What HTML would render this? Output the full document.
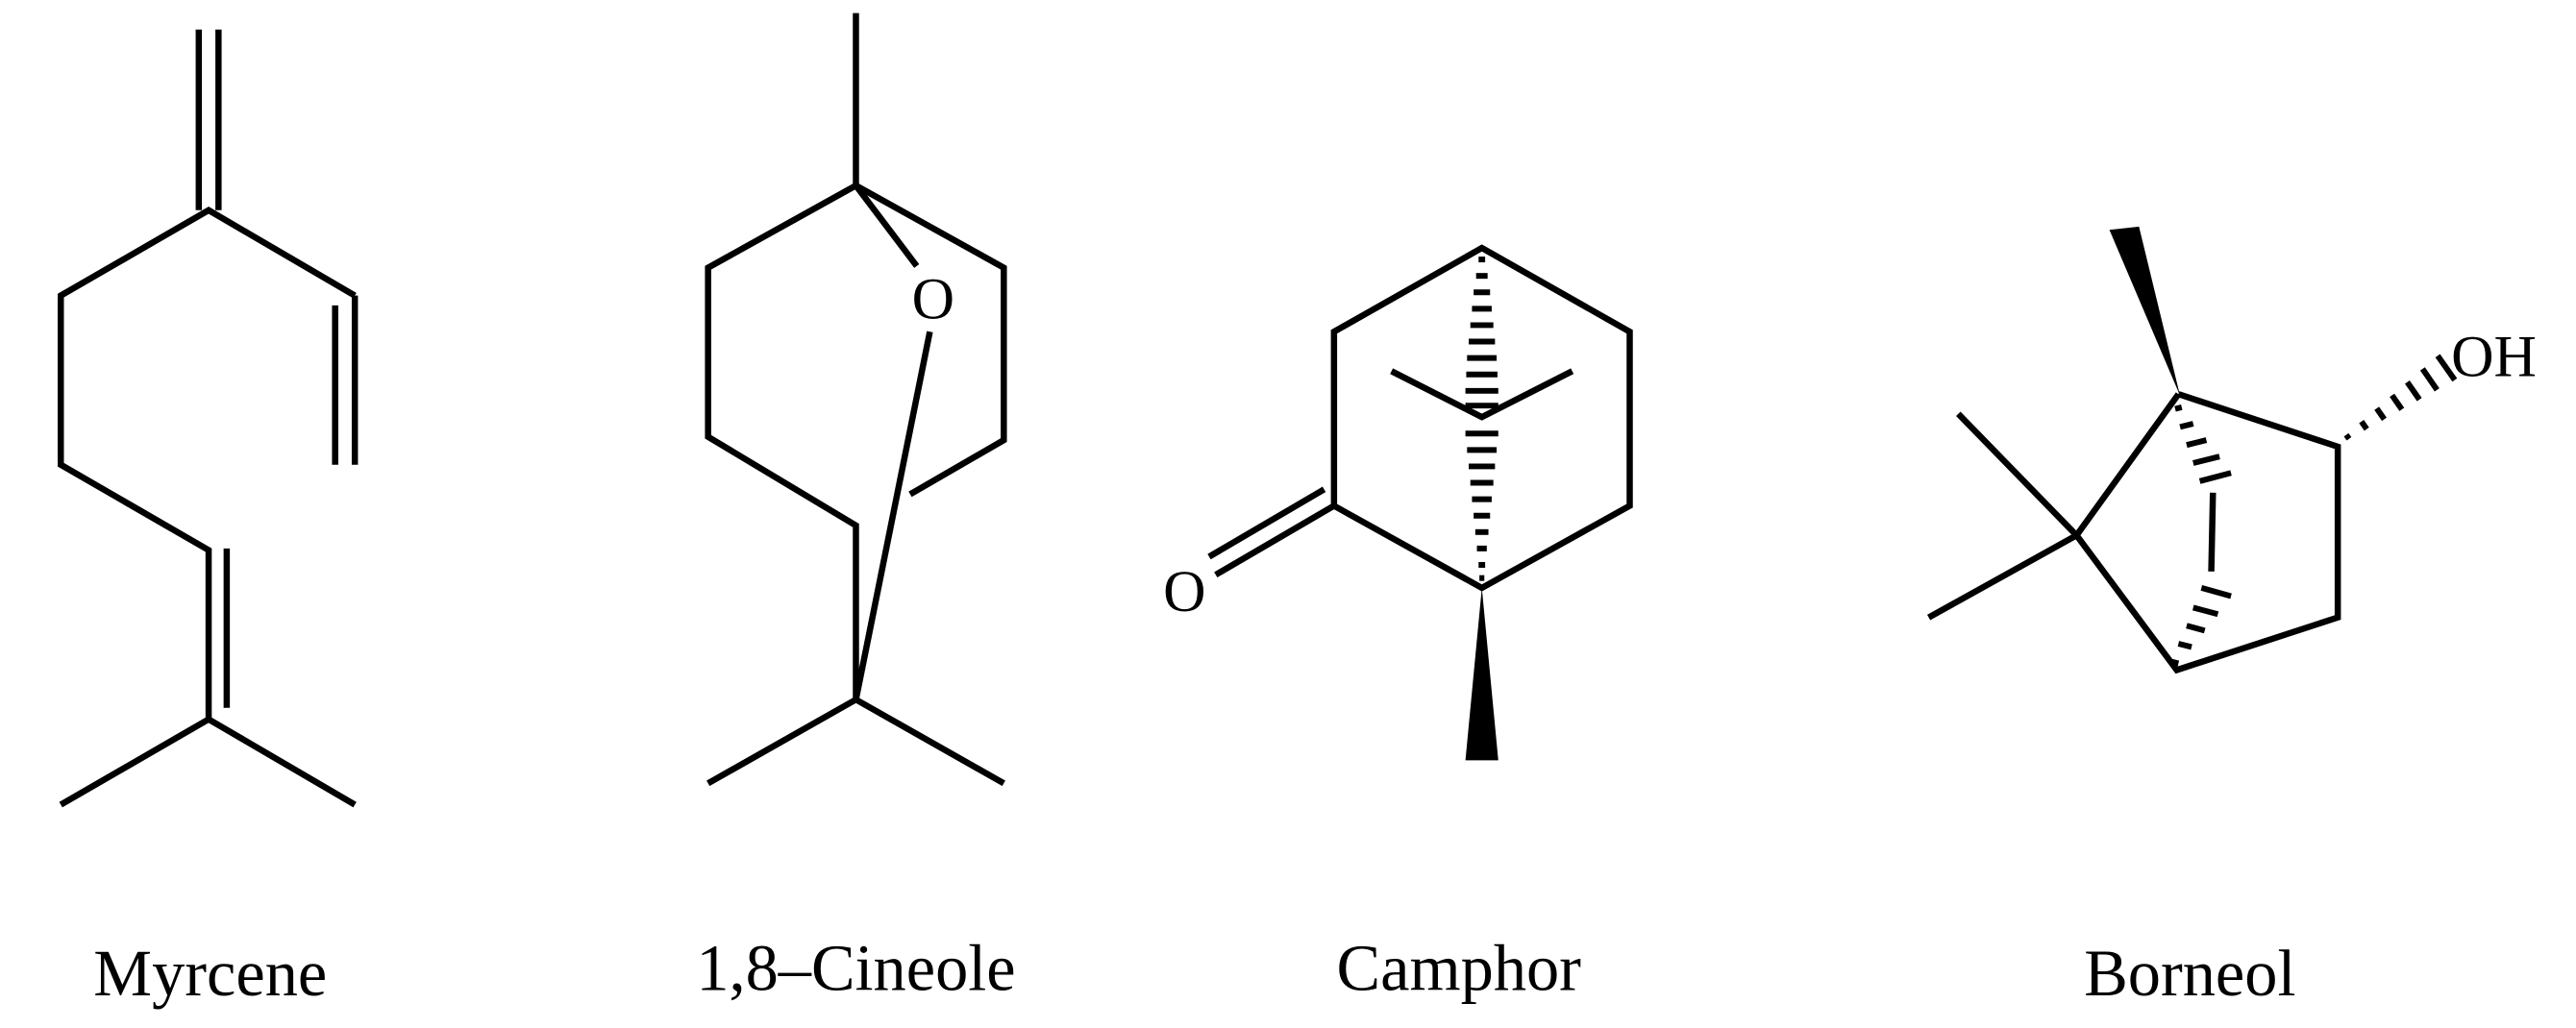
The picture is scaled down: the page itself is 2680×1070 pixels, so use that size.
<!DOCTYPE html>
<html><head><style>html,body{margin:0;padding:0;background:#fff}svg{display:block}</style></head>
<body>
<svg width="2680" height="1070" viewBox="0 0 1568 626" preserveAspectRatio="none" xmlns="http://www.w3.org/2000/svg">
<g stroke="#000" stroke-width="3.8" fill="none" stroke-linecap="butt" stroke-linejoin="miter">
<!-- Myrcene -->
<line x1="121" y1="18" x2="121" y2="128"/><line x1="133" y1="18" x2="133" y2="128"/>
<polyline points="216,180 127,128 37,180 37,283 127,335 127,438 37,490"/>
<line x1="127" y1="438" x2="216" y2="490"/>
<line x1="138" y1="334" x2="138" y2="431"/>
<line x1="216" y1="180" x2="216" y2="283"/>
<line x1="204" y1="186" x2="204" y2="283"/>
<!-- Cineole -->
<line x1="521" y1="8" x2="521" y2="113"/>
<polyline points="521,113 431,163 431,266 521,320 521,426"/>
<polyline points="521,113 611,163 611,268 554,301"/>
<line x1="521" y1="113" x2="558" y2="162"/>
<line x1="566" y1="202" x2="521" y2="426"/>
<line x1="521" y1="426" x2="431" y2="477"/><line x1="521" y1="426" x2="611" y2="477"/>
<!-- Camphor -->
<polygon points="902,151 992,202 992,308 902,358 812,308 812,202"/>
<polyline points="847,226 902,254 957,226"/>
<line x1="812" y1="308" x2="740" y2="350"/>
<line x1="806" y1="298" x2="736" y2="339"/>
<!-- Borneol -->
<polyline points="1326,240 1423,272 1423,376 1325,408 1264,326 1326,240"/>
<line x1="1192" y1="252" x2="1264" y2="326"/>
<line x1="1174" y1="376" x2="1264" y2="326"/>
<line x1="1347" y1="300" x2="1346" y2="348"/>
</g>
<g stroke="#000" stroke-width="3.5">
<line x1="900" y1="158" x2="904" y2="158"/><line x1="898.5" y1="168" x2="905.5" y2="168"/>
<line x1="897" y1="178" x2="907" y2="178"/><line x1="896" y1="188" x2="908" y2="188"/>
<line x1="895" y1="198" x2="909" y2="198"/><line x1="894" y1="208" x2="910" y2="208"/>
<line x1="893" y1="218" x2="911" y2="218"/><line x1="892.5" y1="228" x2="911.5" y2="228"/>
<line x1="892" y1="238" x2="912" y2="238"/><line x1="892" y1="247" x2="912" y2="247"/>
<line x1="892" y1="264" x2="912" y2="264"/><line x1="893" y1="274" x2="911" y2="274"/>
<line x1="894" y1="284" x2="910" y2="284"/><line x1="895" y1="294" x2="909" y2="294"/>
<line x1="896" y1="304" x2="908" y2="304"/><line x1="897" y1="314" x2="907" y2="314"/>
<line x1="898" y1="324" x2="906" y2="324"/><line x1="899" y1="334" x2="905" y2="334"/>
<line x1="900" y1="344" x2="904" y2="344"/><line x1="900.5" y1="352" x2="903.5" y2="352"/>
<line x1="1324" y1="249" x2="1328" y2="248"/><line x1="1327" y1="260" x2="1335" y2="258"/>
<line x1="1331" y1="271" x2="1343" y2="268"/><line x1="1335" y1="282" x2="1351" y2="278"/>
<line x1="1339" y1="293" x2="1358" y2="288"/>
<line x1="1322" y1="403" x2="1326" y2="404"/><line x1="1326" y1="392" x2="1334" y2="394"/>
<line x1="1331" y1="381" x2="1342" y2="384"/><line x1="1335" y1="370" x2="1350" y2="374"/>
<line x1="1340" y1="358" x2="1358" y2="363"/>
<line x1="1428.1" y1="264.8" x2="1429.9" y2="267.2"/><line x1="1437.4" y1="256.7" x2="1440.6" y2="261.3"/>
<line x1="1446.7" y1="248.7" x2="1451.3" y2="255.3"/><line x1="1456" y1="240.7" x2="1462" y2="249.3"/>
<line x1="1465.3" y1="232.7" x2="1472.7" y2="243.3"/><line x1="1474.6" y1="224.6" x2="1483.4" y2="237.4"/>
<line x1="1483.8" y1="216.6" x2="1494.2" y2="231.4"/>
</g>
<polygon points="902,358 892,463 912,463" fill="#000"/>
<polygon points="1284,140 1302,138 1327,241" fill="#000"/>
<g font-family="Liberation Serif, serif" fill="#000">
<text x="568" y="194" font-size="36" text-anchor="middle">O</text>
<text x="721" y="372" font-size="36" text-anchor="middle">O</text>
<text x="1492" y="229" font-size="36">OH</text>
<text x="128" y="606" font-size="40" text-anchor="middle">Myrcene</text>
<text x="521" y="603" font-size="40" text-anchor="middle">1,8–Cineole</text>
<text x="888" y="603" font-size="40" text-anchor="middle">Camphor</text>
<text x="1333" y="606" font-size="40" text-anchor="middle">Borneol</text>
</g>
</svg>
</body></html>
